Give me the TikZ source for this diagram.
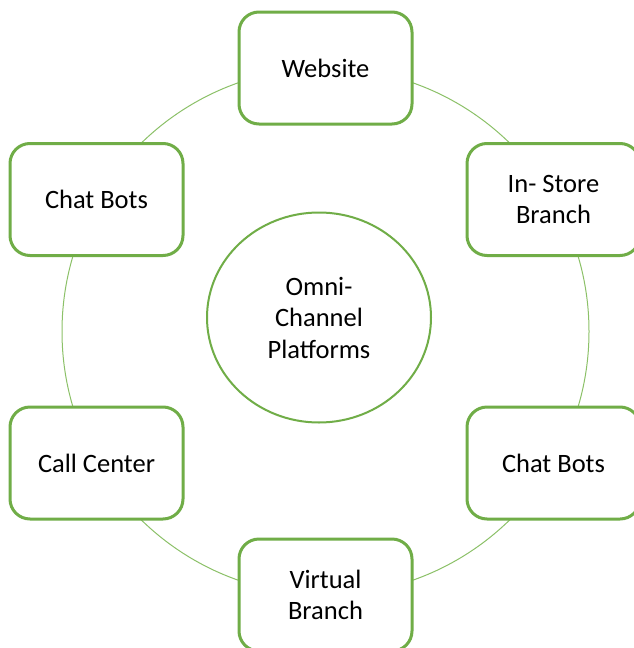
\documentclass[tikz,border=0pt]{standalone}
\usepackage{fontspec}
\usetikzlibrary{shapes.geometric}
\setmainfont{Carlito}
\definecolor{grn}{HTML}{70AD47}
\definecolor{lgrn}{HTML}{8CC168}
\begin{document}
\begin{tikzpicture}[x=1pt,y=-1pt,
  chan/.style={draw=grn, line width=3pt, fill=white, rounded corners=20pt,
    minimum width=173pt, minimum height=112pt, align=center, inner sep=0pt,
    font=\fontsize{26.5}{31}\selectfont},
  hub/.style={draw=grn, line width=2pt, fill=white, ellipse, align=center,
    minimum width=224pt, minimum height=210pt, inner sep=0pt,
    font=\fontsize{26.5}{31.5}\selectfont}]
\useasboundingbox (0,0) rectangle (634,648);
\fill[white] (0,0) rectangle (634,648);
\coordinate (c) at (325.5,331.5);
\draw[lgrn, line width=1pt] (c) circle[radius=263.5pt];
\node[chan] (web) at (325.5,68) {Website};
\node[chan] (cbl) at (96.5,199.5) {Chat Bots};
\node[chan] (ins) at (553.5,199.5) {In- Store\\Branch};
\node[chan] (cbr) at (553.5,463) {Chat Bots};
\node[chan] (cc) at (96.5,463) {Call Center};
\node[chan] (vb) at (325.5,595) {Virtual\\Branch};
\node[hub] (hub) at (319,317.5) {Omni-\\Channel\\Platforms};
\end{tikzpicture}
\end{document}
